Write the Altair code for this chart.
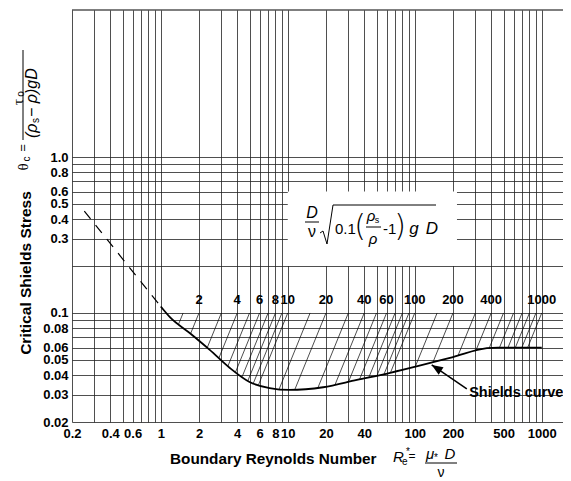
import altair as alt
import pandas as pd
import numpy as np

FONT = "Liberation Sans"

# ---------------- data ----------------
curve_re = [1.0, 1.18, 1.69, 2.43, 3.5, 5.0, 7.2, 10.3, 19, 35, 64, 115, 200, 370, 450, 1000]
curve_theta = [0.11, 0.094, 0.0744, 0.058, 0.0444, 0.0361, 0.033, 0.0321, 0.0334, 0.0372,
               0.0413, 0.0464, 0.0522, 0.0595, 0.06, 0.06]
dashed_re = [0.25, 1.0]
dashed_theta = [0.45, 0.11]

param_values = [1.5, 2, 3, 4, 5, 6, 7, 8, 9, 10, 15, 20, 30, 40, 50, 60, 70, 80, 90, 100,
                150, 200, 300, 400, 500, 600, 700, 800, 900, 1000]
param_labels = [2, 4, 6, 8, 10, 20, 40, 60, 100, 200, 400, 1000]
param_top_theta = 0.1
param_label_theta = 0.121

x_grid = [0.2, 0.3, 0.4, 0.5, 0.6, 0.7, 0.8, 0.9, 1, 2, 3, 4, 5, 6, 7, 8, 9,
          10, 20, 30, 40, 50, 60, 70, 80, 90, 100, 200, 300, 400, 500, 600, 700, 800, 900, 1000]
x_labels = [0.2, 0.4, 0.6, 1, 2, 4, 6, 8, 10, 20, 40, 100, 200, 500, 1000]
y_grid = [0.02, 0.03, 0.04, 0.05, 0.06, 0.07, 0.08, 0.09, 0.1,
          0.2, 0.3, 0.4, 0.5, 0.6, 0.7, 0.8, 0.9, 1.0]
y_labels = [0.02, 0.03, 0.04, 0.05, 0.06, 0.08, 0.1, 0.3, 0.4, 0.5, 0.6, 0.8, 1.0]

x_domain = [0.2, 1470]
y_domain = [0.02, 8.76]

box_re = [10, 215]
box_theta = [0.2, 0.6]

arrow_re = [257, 136]
arrow_theta = [0.0326, 0.0464]
note_re = [268]
note_theta = [0.0307]
note_text = ["Shields curve"]

# ---------------- derived tables ----------------
lx = np.log10(curve_re)
ly = np.log10(curve_theta)
rows = []
for i, p in enumerate(param_values):
    grid = np.linspace(np.log10(p) - 1.5, np.log10(p), 3000)
    line = np.log10(param_top_theta) + 2 * (grid - np.log10(p))
    curv = np.interp(grid, lx, ly)
    below = np.where(line <= curv)[0]
    start = grid[below[-1]] if len(below) else grid[0]
    rows.append({"id": i, "o": 0, "re": p, "theta": param_top_theta})
    rows.append({"id": i, "o": 1, "re": float(10 ** start),
                 "theta": float(10 ** (np.log10(param_top_theta) + 2 * (start - np.log10(p))))})
hatch_df = pd.DataFrame(rows)
curve_df = pd.DataFrame({"re": curve_re, "theta": curve_theta})
dash_df = pd.DataFrame({"re": dashed_re, "theta": dashed_theta})
lab_df = pd.DataFrame({"re": param_labels, "theta": [param_label_theta] * len(param_labels),
                       "t": [str(v) for v in param_labels]})
grid_df = pd.DataFrame({"re": [x_grid[0]], "theta": [y_grid[0]]})
box_df = pd.DataFrame({"re": [box_re[0]], "re2": [box_re[1]],
                       "theta": [box_theta[0]], "theta2": [box_theta[1]]})
arrow_df = pd.DataFrame({"re": arrow_re, "theta": arrow_theta})
head_df = pd.DataFrame({"re": [arrow_re[1]], "theta": [arrow_theta[1]]})
note_df = pd.DataFrame({"re": note_re, "theta": note_theta, "t": note_text})

xl = ",".join(str(v) for v in x_labels)
yl = ",".join(str(v) for v in y_labels)

X = alt.X("re:Q", scale=alt.Scale(type="log", domain=x_domain, nice=False),
          axis=alt.Axis(values=x_grid, title=None, grid=True, ticks=False, domain=False,
                        labelExpr=f"indexof([{xl}], datum.value) >= 0 ? format(datum.value, '~g') : ''",
                        labelOverlap=False, labelFlush=False, labelBound=False, labelPadding=5))
Y = alt.Y("theta:Q", scale=alt.Scale(type="log", domain=y_domain, nice=False),
          axis=alt.Axis(values=y_grid, title=None, grid=True, ticks=False, domain=False,
                        labelExpr=f"indexof([{yl}], datum.value) >= 0 ? (datum.value == 1 ? '1.0' : format(datum.value, '~g')) : ''",
                        labelOverlap=False, labelFlush=False, labelBound=False, labelPadding=4))

base = alt.Chart(grid_df).mark_point(opacity=0).encode(x=X, y=Y)

box = alt.Chart(box_df).mark_rect(color="white").encode(x=X, x2="re2:Q", y=Y, y2="theta2:Q")

hatch = alt.Chart(hatch_df).mark_line(color="black", strokeWidth=0.7).encode(
    x=X, y=Y, detail="id:N", order="o:Q")

curve = alt.Chart(curve_df).mark_line(color="black", strokeWidth=1.8, interpolate="monotone").encode(x=X, y=Y)
dashed = alt.Chart(dash_df).mark_line(color="black", strokeWidth=1.2, strokeDash=[10, 8]).encode(x=X, y=Y)

labs = alt.Chart(lab_df).mark_text(font=FONT, fontSize=13, fontWeight="bold", color="black",
                                   baseline="middle").encode(x=X, y=Y, text="t:N")

arrow = alt.Chart(arrow_df).mark_line(color="black", strokeWidth=1.5).encode(x=X, y=Y)
head = alt.Chart(head_df).mark_point(shape="M0,0 L0.4,1 L-0.4,1 Z", filled=True, color="black",
                                     opacity=1, size=500, angle=303).encode(x=X, y=Y)
note = alt.Chart(note_df).mark_text(font=FONT, fontSize=14.5, fontWeight="bold", color="black",
                                    align="left", baseline="middle").encode(x=X, y=Y, text="t:N")

OX, OY = 72, 10
one = pd.DataFrame({"k": [0]})


def txt(s, px, py, size=15, weight="normal", style="normal", align="center", angle=0, font=FONT):
    return alt.Chart(one).mark_text(text=s, font=font, fontSize=size, fontWeight=weight, fontStyle=style,
                                    align=align, baseline="middle", angle=angle, color="black").encode(
        x=alt.value(px - OX), y=alt.value(py - OY))


def seg(x1, y1, x2, y2, w=1.0):
    return alt.Chart(one).mark_rule(color="black", strokeWidth=w).encode(
        x=alt.value(x1 - OX), y=alt.value(y1 - OY), x2=alt.value(x2 - OX), y2=alt.value(y2 - OY))


THIN = "DejaVu Sans ExtraLight, DejaVu Sans Light, Liberation Sans"

deco = [
    seg(72, 10, 563, 10, 1.2),
    # formula in box
    txt("D", 312, 213, 16, style="italic"),
    seg(305, 222, 319, 222),
    txt("ν", 312, 232, 16),
    seg(320, 233, 323, 231), seg(323, 231, 327, 244), seg(327, 244, 333, 205), seg(333, 205, 436, 205),
    txt("0.1", 335, 229, 15, align="left"),
    txt("(", 360, 227, 30, weight=200, font=THIN),
    txt("ρ", 371, 216, 15, style="italic"), txt("s", 377, 220, 9),
    seg(366, 227, 381, 227),
    txt("ρ", 373, 239, 15, style="italic"),
    txt("-1", 383, 229, 15, align="left"),
    txt(")", 400, 227, 30, weight=200, font=THIN),
    txt("g", 414, 229, 17, style="italic"),
    txt("D", 432, 229, 17, style="italic"),
    # x title
    txt("Boundary Reynolds Number", 170, 459, 15.3, weight="bold", align="left"),
    txt("R", 393, 457, 15, style="italic", align="left"),
    txt("e", 402, 462, 10, align="left"),
    txt("*", 406, 452, 10, align="left"),
    txt("=", 412, 456, 12),
    txt("μ", 430, 454, 15, style="italic"),
    txt("*", 436, 458, 10),
    txt("D", 450, 454, 15, style="italic"),
    seg(425, 463, 457, 463),
    txt("ν", 441, 473, 14),
    # y title
    txt("Critical Shields Stress", 26, 273, 15.5, weight="bold", angle=270),
    txt("θ", 23, 167, 15, angle=270, font="Liberation Serif"),
    txt("c", 27, 159, 10, angle=270),
    txt("=", 23, 148, 13, angle=270),
    seg(23, 50, 23, 140),
    txt("τ", 18, 102, 15, angle=270, font="Liberation Serif"),
    txt("o", 21, 94, 10, angle=270),
    txt("(ρ", 32, 138, 16, style="italic", align="left", angle=270),
    txt("s", 36, 123, 10, align="left", angle=270),
    txt("− ρ)gD", 32, 117, 16, style="italic", align="left", angle=270),
]

chart = alt.layer(base, box, hatch, curve, dashed, labs, arrow, head, note, *deco).properties(
    width=491, height=412,
    autosize=alt.AutoSizeParams(type="none"),
    padding={"left": 64, "top": 2, "right": 0, "bottom": 60},
).configure_view(stroke=None).configure_axis(
    gridColor="#222", gridWidth=0.8, gridOpacity=1,
    labelFont=FONT, labelFontSize=13, labelFontWeight="bold", labelColor="black",
)

chart.save("out.html", embed_options={"renderer": "svg", "actions": False})
